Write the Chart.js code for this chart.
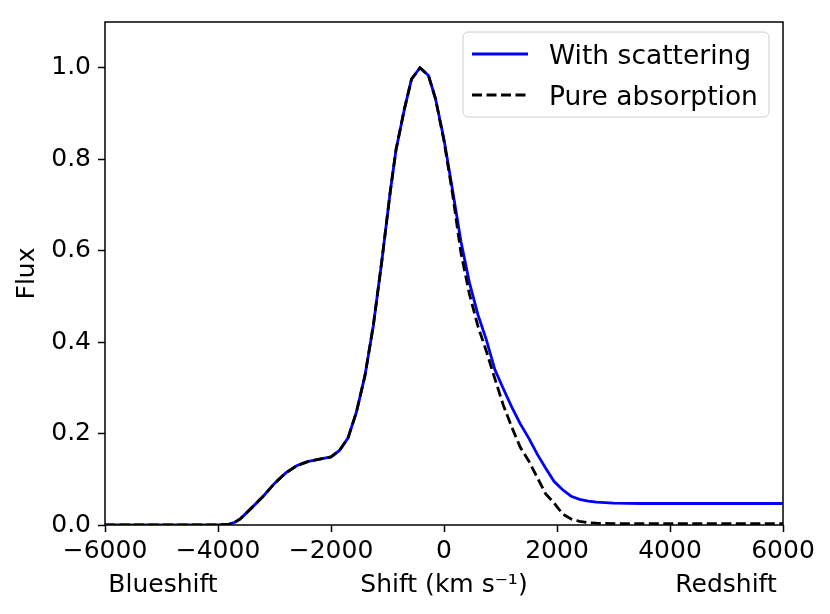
<!DOCTYPE html>
<html>
<head>
<meta charset="utf-8">
<script src="https://cdn.jsdelivr.net/npm/chart.js@4/dist/chart.umd.min.js"></script>
<style>
html,body{margin:0;padding:0;background:#fff;}
#wrap{width:830px;height:614px;}
</style>
</head>
<body>
<div id="wrap"><canvas id="c" width="830" height="614"></canvas></div>
<script>
// Velocity shift (km/s)
const shift = [-6000,-5000,-4000,-3800,-3700,-3600,-3400,-3200,-3000,-2800,-2600,-2400,-2200,-2000,-1850,-1700,-1550,-1400,-1250,-1100,-950,-850,-700,-575,-425,-275,-150,
  0,150,300,450,600,750,900,1050,1200,1350,1500,1650,1800,1950,2100,2250,2400,2550,2700,3000,3500,4000,5000,6000];
// Flux with scattering
const withScattering = [0,0,0,0.002,0.006,0.014,0.038,0.063,0.091,0.114,0.130,0.139,0.144,0.149,0.163,0.190,0.247,0.326,0.437,0.578,0.730,0.820,0.910,0.975,1.000,0.983,0.932,
  0.843,0.733,0.620,0.530,0.460,0.405,0.340,0.298,0.258,0.221,0.190,0.155,0.124,0.095,0.077,0.063,0.056,0.052,0.050,0.048,0.047,0.047,0.047,0.047];
// Flux, pure absorption
const pureAbsorption = [0,0,0,0.002,0.006,0.014,0.038,0.063,0.091,0.114,0.130,0.139,0.144,0.149,0.163,0.190,0.247,0.326,0.437,0.578,0.730,0.820,0.910,0.975,1.000,0.983,0.932,
  0.840,0.725,0.595,0.505,0.435,0.380,0.320,0.262,0.214,0.170,0.140,0.104,0.068,0.048,0.024,0.013,0.008,0.005,0.004,0.003,0.003,0.003,0.003,0.003];
const seriesLabels = ["With scattering","Pure absorption"];
const xTicks = [-6000,-4000,-2000,0,2000,4000,6000];
const yTicks = [0.0,0.2,0.4,0.6,0.8,1.0];
const xTitle = "Shift (km s\u207B\u00B9)";
const xSideLabels = ["Blueshift","Redshift"];
const yTitle = "Flux";

Chart.defaults.font.family = "'DejaVu Sans', sans-serif";
Chart.defaults.font.size = 25;
Chart.defaults.color = "#000";

const FONT = "25px 'DejaVu Sans', sans-serif";
const LEGEND_FONT = "26.5px 'DejaVu Sans', sans-serif";

const framePlugin = {
  id: 'frame',
  afterDatasetsDraw(chart) {
    const {ctx, chartArea: a} = chart;
    ctx.save();
    ctx.strokeStyle = '#000';
    ctx.lineWidth = 1.5;
    ctx.strokeRect(a.left, a.top, a.right - a.left, a.bottom - a.top);
    ctx.restore();
  },
  afterDraw(chart) {
    const {ctx} = chart;
    const xs = chart.scales.x;
    ctx.save();
    ctx.font = FONT;
    ctx.fillStyle = '#000';
    ctx.textAlign = 'center';
    ctx.textBaseline = 'middle';
    const ty = xs.bottom - (14 + 15);
    ctx.fillText(xSideLabels[0], 163, ty);
    ctx.fillText(xSideLabels[1], 726, ty);
    // legend
    const lx = 463, ly = 32, lw = 306, lh = 85, r = 5;
    ctx.beginPath();
    ctx.moveTo(lx + r, ly);
    ctx.arcTo(lx + lw, ly, lx + lw, ly + lh, r);
    ctx.arcTo(lx + lw, ly + lh, lx, ly + lh, r);
    ctx.arcTo(lx, ly + lh, lx, ly, r);
    ctx.arcTo(lx, ly, lx + lw, ly, r);
    ctx.closePath();
    ctx.fillStyle = 'rgba(255,255,255,0.8)';
    ctx.fill();
    ctx.strokeStyle = '#cccccc';
    ctx.lineWidth = 1;
    ctx.stroke();
    const rows = [54, 95];
    ctx.font = LEGEND_FONT;
    chart.data.datasets.forEach((ds, i) => {
      ctx.beginPath();
      ctx.setLineDash(ds.borderDash || []);
      ctx.strokeStyle = ds.borderColor;
      ctx.lineWidth = ds.borderWidth;
      ctx.moveTo(472, rows[i]);
      ctx.lineTo(528, rows[i]);
      ctx.stroke();
      ctx.setLineDash([]);
      ctx.fillStyle = '#000';
      ctx.textAlign = 'left';
      ctx.textBaseline = 'alphabetic';
      ctx.fillText(ds.label, 549, rows[i] + 10);
    });
    ctx.restore();
  }
};

const mk = (arr) => shift.map((v, i) => ({x: v, y: arr[i]}));

new Chart(document.getElementById('c'), {
  type: 'line',
  data: {
    datasets: [
      {label: seriesLabels[0], data: mk(withScattering), order: 2, borderColor: '#0000ff', borderWidth: 2.8, pointRadius: 0, tension: 0, fill: false},
      {label: seriesLabels[1], data: mk(pureAbsorption), order: 1, borderColor: '#000000', borderWidth: 2.8, borderDash: [10, 4.5], pointRadius: 0, tension: 0, fill: false}
    ]
  },
  options: {
    responsive: false,
    animation: false,
    devicePixelRatio: 1,
    layout: {padding: {top: 18, right: 47, left: 0, bottom: 0}},
    plugins: {legend: {display: false}, tooltip: {enabled: false}},
    scales: {
      x: {
        type: 'linear', min: -6000, max: 6000,
        afterBuildTicks(s) { s.ticks = xTicks.map(v => ({value: v})); },
        afterFit(s) { s.height = 89; },
        ticks: {padding: 4, maxRotation: 0, autoSkip: false, callback: v => String(v).replace('-', '\u2212')},
        grid: {drawOnChartArea: false, drawTicks: true, tickLength: 7, tickWidth: 1.5, tickColor: '#000'},
        border: {display: false},
        title: {display: true, text: xTitle, padding: {top: 14, bottom: 14}}
      },
      y: {
        type: 'linear', min: 0, max: 1.1,
        afterBuildTicks(s) { s.ticks = yTicks.map(v => ({value: v})); },
        afterFit(s) { s.width = 105; },
        ticks: {padding: 7, callback: v => Number(v).toFixed(1)},
        grid: {drawOnChartArea: false, drawTicks: true, tickLength: 7, tickWidth: 1.5, tickColor: '#000'},
        border: {display: false},
        title: {display: true, text: yTitle, padding: {top: 12, bottom: 12}}
      }
    }
  },
  plugins: [framePlugin]
});
</script>
</body>
</html>
